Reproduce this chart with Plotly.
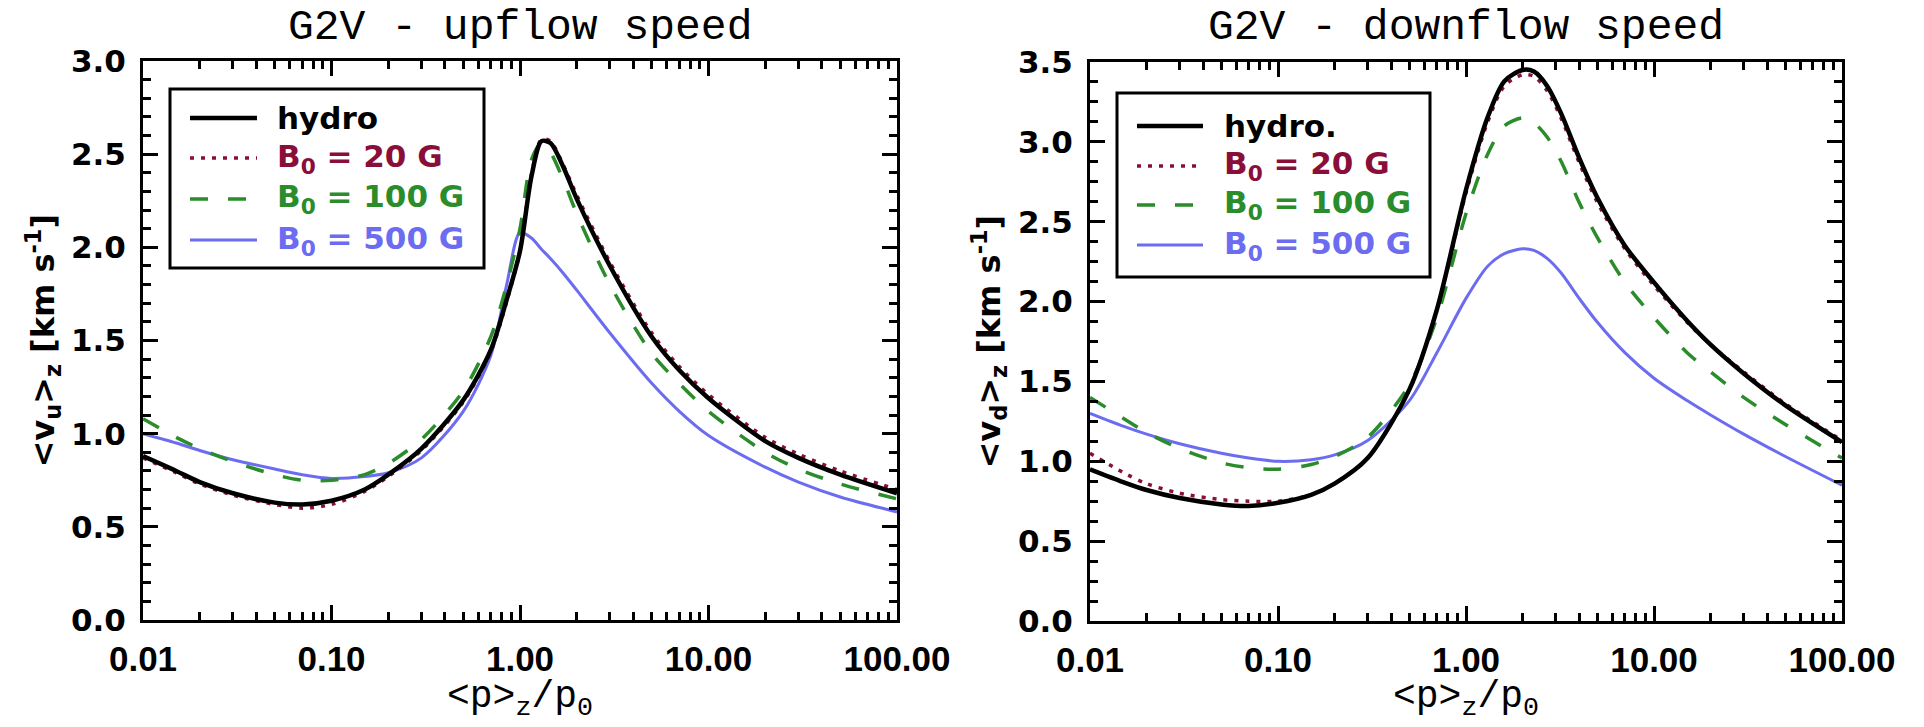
import plotly.graph_objects as go

W, H = 1924, 727

# ---------------- data ----------------
p_up = [0.01, 0.015, 0.02, 0.03, 0.05, 0.07, 0.1, 0.15, 0.2, 0.3, 0.5, 0.7,
        0.85, 1.0, 1.15, 1.3, 1.45, 1.7, 2.0, 3.0, 5.0, 7.0, 10, 20, 30, 50, 100]
hydro_up = [0.88, 0.80, 0.74, 0.68, 0.63, 0.62, 0.64, 0.70, 0.78, 0.92, 1.18, 1.45,
            1.72, 1.98, 2.38, 2.57, 2.56, 2.43, 2.26, 1.90, 1.52, 1.34, 1.19, 0.96, 0.87, 0.78, 0.68]
b20_up = [0.87, 0.79, 0.73, 0.67, 0.62, 0.60, 0.62, 0.69, 0.77, 0.91, 1.17, 1.44,
          1.71, 1.98, 2.39, 2.58, 2.57, 2.44, 2.28, 1.92, 1.54, 1.36, 1.21, 0.98, 0.89, 0.80, 0.70]
b100_up = [1.08, 0.98, 0.92, 0.85, 0.78, 0.75, 0.75, 0.78, 0.84, 0.97, 1.23, 1.52,
           1.80, 2.10, 2.47, 2.56, 2.51, 2.36, 2.18, 1.80, 1.43, 1.27, 1.12, 0.90, 0.81, 0.73, 0.65]
b500_up = [1.00, 0.95, 0.91, 0.86, 0.81, 0.78, 0.76, 0.77, 0.79, 0.87, 1.12, 1.42,
           1.80, 2.08, 2.05, 1.99, 1.94, 1.86, 1.77, 1.54, 1.27, 1.12, 0.99, 0.82, 0.74, 0.66, 0.58]

p_down = [0.01, 0.015, 0.02, 0.03, 0.05, 0.07, 0.1, 0.15, 0.2, 0.3, 0.5, 0.7, 1.0,
          1.3, 1.6, 2.0, 2.3, 2.7, 3.2, 4.0, 5.0, 7.0, 10, 15, 20, 30, 50, 100]
hydro_down = [0.95, 0.87, 0.82, 0.77, 0.73, 0.72, 0.74, 0.79, 0.86, 1.02, 1.45, 1.95, 2.70,
              3.15, 3.38, 3.45, 3.44, 3.35, 3.18, 2.90, 2.65, 2.35, 2.12, 1.88, 1.73, 1.55, 1.35, 1.12]
b20_down = [1.05, 0.93, 0.86, 0.80, 0.76, 0.75, 0.75, 0.79, 0.86, 1.02, 1.45, 1.95, 2.68,
            3.12, 3.35, 3.42, 3.41, 3.32, 3.15, 2.87, 2.62, 2.33, 2.10, 1.87, 1.73, 1.56, 1.36, 1.13]
b100_down = [1.40, 1.27, 1.18, 1.08, 0.99, 0.96, 0.95, 0.98, 1.03, 1.15, 1.48, 1.90, 2.55,
             2.92, 3.10, 3.15, 3.12, 3.03, 2.88, 2.62, 2.40, 2.12, 1.90, 1.68, 1.56, 1.40, 1.23, 1.02]
b500_down = [1.30, 1.22, 1.17, 1.11, 1.05, 1.02, 1.00, 1.01, 1.04, 1.13, 1.38, 1.68, 2.02,
             2.22, 2.30, 2.33, 2.32, 2.27, 2.18, 2.02, 1.87, 1.68, 1.52, 1.38, 1.29, 1.17, 1.03, 0.85]

names_up = ["hydro", "B<sub>0</sub> = 20 G", "B<sub>0</sub> = 100 G", "B<sub>0</sub> = 500 G"]
names_down = ["hydro.", "B<sub>0</sub> = 20 G", "B<sub>0</sub> = 100 G", "B<sub>0</sub> = 500 G"]
x_tickvals = [0.01, 0.1, 1, 10, 100]
x_ticktext = ["0.01", "0.10", "1.00", "10.00", "100.00"]
titles = ["G2V - upflow speed", "G2V - downflow speed"]
ytitles = ["&lt;v<sub>u</sub>&gt;<sub>z</sub> [km s<sup>-1</sup>]",
           "&lt;v<sub>d</sub>&gt;<sub>z</sub> [km s<sup>-1</sup>]"]
xtitle = "&lt;p&gt;<sub>z</sub>/p<sub>0</sub>"
yranges = [3.0, 3.5]
yminor = [0.1, 0.125]

# ---------------- styles ----------------
colors = ["#000000", "#8a0e3a", "#2a8c2a", "#6c6cf0"]
dashes = ["solid", "4px,7px", "18px,20px", "solid"]
widths = [4.5, 3.5, 3.5, 3.0]

# panel boxes in pixels (x0, x1, ytop, ybottom)
panels = [(143, 897, 61, 620), (1090, 1842, 62, 621)]
legends = [dict(box=(170, 484, 89, 268), rows=[118, 158, 199, 240], lx=(190, 257), tx=275),
           dict(box=(1117, 1430, 93, 277), rows=[126, 166, 205, 245], lx=(1137, 1203), tx=1222)]


def fx(x):
    return x / W


def fy(y):
    return 1 - y / H


fig = go.Figure()

data_sets = [(p_up, [hydro_up, b20_up, b100_up, b500_up]),
             (p_down, [hydro_down, b20_down, b100_down, b500_down])]

for k, (px, series) in enumerate(data_sets):
    xa = "x" if k == 0 else "x2"
    ya = "y" if k == 0 else "y2"
    # draw in reverse so the hydro line is on top
    for i in reversed(range(4)):
        fig.add_trace(go.Scatter(
            x=px, y=series[i], mode="lines", xaxis=xa, yaxis=ya,
            line=dict(color=colors[i], width=widths[i], dash=dashes[i],
                      shape="spline", smoothing=0.8),
            showlegend=False, hoverinfo="skip"))

layout = dict(width=W, height=H, margin=dict(l=0, r=0, t=0, b=0, autoexpand=False),
              paper_bgcolor="white", plot_bgcolor="white", showlegend=False)

shapes = []
annotations = []
for k, (x0, x1, yt, yb) in enumerate(panels):
    sfx = "" if k == 0 else "2"
    layout["xaxis" + sfx] = dict(
        type="log", range=[-2, 2], domain=[fx(x0), fx(x1)], anchor="y" + sfx,
        automargin=False,
        tickmode="array", tickvals=x_tickvals, ticktext=x_ticktext,
        ticks="inside", ticklen=15, tickwidth=3, tickcolor="black",
        showline=True, linewidth=3, linecolor="black", mirror="allticks",
        showgrid=False, zeroline=False, ticklabelstandoff=6,
        tickfont=dict(family="Liberation Sans", size=35, color="black", weight="bold"),
        minor=dict(ticks="inside", ticklen=8, tickwidth=3, tickcolor="black",
                   dtick="D1", showgrid=False))
    layout["yaxis" + sfx] = dict(
        range=[0, yranges[k]], domain=[fy(yb), fy(yt)], anchor="x" + sfx,
        automargin=False,
        tickmode="linear", tick0=0, dtick=0.5, tickformat=".1f",
        ticks="inside", ticklen=15, tickwidth=3, tickcolor="black",
        showline=True, linewidth=3, linecolor="black", mirror="allticks",
        showgrid=False, zeroline=False, ticklabelstandoff=8,
        tickfont=dict(family="DejaVu Sans", size=31, color="black", weight="bold"),
        minor=dict(ticks="inside", ticklen=8, tickwidth=3, tickcolor="black",
                   dtick=yminor[k], showgrid=False))

    cx = (x0 + x1) / 2
    annotations.append(dict(text=titles[k], x=fx(cx), y=fy(28), xref="paper", yref="paper",
                            showarrow=False, xanchor="center", yanchor="middle",
                            font=dict(family="Liberation Mono", size=43, color="black")))
    annotations.append(dict(text=xtitle, x=fx(cx), y=fy(699), xref="paper", yref="paper",
                            showarrow=False, xanchor="center", yanchor="middle",
                            font=dict(family="Liberation Mono", size=38, color="black")))
    ytx = 42 if k == 0 else 988
    annotations.append(dict(text=ytitles[k], x=fx(ytx), y=fy((yt + yb) / 2),
                            xref="paper", yref="paper", showarrow=False, textangle=-90,
                            xanchor="center", yanchor="middle",
                            font=dict(family="DejaVu Sans", size=32, color="black",
                                      weight="bold")))

    # legend box
    lg = legends[k]
    bx0, bx1, by0, by1 = lg["box"]
    shapes.append(dict(type="rect", xref="paper", yref="paper",
                       x0=fx(bx0), x1=fx(bx1), y0=fy(by1), y1=fy(by0),
                       line=dict(color="black", width=3), fillcolor="white", layer="above"))
    names = names_up if k == 0 else names_down
    for i in range(4):
        ry = lg["rows"][i]
        shapes.append(dict(type="line", xref="paper", yref="paper",
                           x0=fx(lg["lx"][0]), x1=fx(lg["lx"][1]), y0=fy(ry), y1=fy(ry),
                           line=dict(color=colors[i], width=widths[i], dash=dashes[i]),
                           layer="above"))
        annotations.append(dict(text=names[i], x=fx(lg["tx"]), y=fy(ry), xref="paper",
                                yref="paper", showarrow=False, xanchor="left",
                                yanchor="middle",
                                font=dict(family="DejaVu Sans", size=31, color=colors[i],
                                          weight="bold")))

layout["shapes"] = shapes
layout["annotations"] = annotations
fig.update_layout(**layout)
fig.write_html("out.html")
